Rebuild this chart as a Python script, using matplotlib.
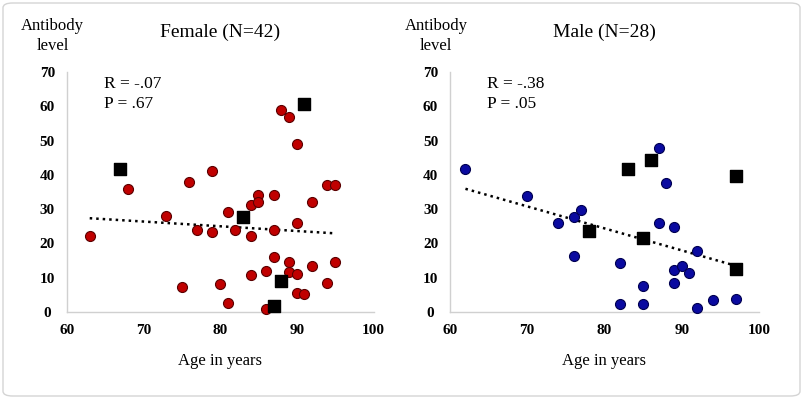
import numpy as np
import matplotlib
matplotlib.use("Agg")
import matplotlib.pyplot as plt
from matplotlib.patches import FancyBboxPatch

# ---------------- data ----------------
female_age = [63, 68, 73, 75, 76, 77, 79, 79, 80, 81, 81, 82, 84, 84, 84, 85, 85, 86, 86,
              87, 87, 87, 88, 89, 89, 89, 90, 90, 90, 90, 91, 92, 92, 94, 94, 95, 95]
female_ab = [22.2, 36.0, 28.0, 7.3, 38.0, 24.0, 41.1, 23.2, 8.3, 29.2, 2.5, 24.0, 31.2, 22.2, 10.7,
             34.0, 32.0, 12.1, 0.9, 34.0, 24.0, 16.1, 59.0, 57.0, 14.7, 11.6, 49.1, 26.0, 11.0, 5.6,
             5.2, 32.0, 13.5, 37.0, 8.6, 37.0, 14.7]
female_sq_age = [67, 83, 91, 88, 87]
female_sq_ab = [41.6, 27.8, 60.6, 9.0, 1.7]

male_age = [62, 70, 74, 76, 76, 77, 82, 82, 85, 85, 87, 87, 88, 89, 89, 89, 90, 91, 92, 92, 94, 97]
male_ab = [41.7, 33.8, 25.9, 27.8, 16.2, 29.8, 14.2, 2.2, 7.7, 2.2, 47.7, 25.9, 37.7, 24.8, 12.2,
           8.6, 13.3, 11.4, 17.9, 1.2, 3.4, 3.7]
male_sq_age = [83, 86, 97, 78, 85, 97]
male_sq_ab = [41.6, 44.4, 39.7, 23.7, 21.7, 12.6]

titles = ["Female (N=42)", "Male (N=28)"]
stats = [("R = -.07", "P = .67"), ("R = -.38", "P = .05")]
x_ticks = [60, 70, 80, 90, 100]
y_ticks = [0, 10, 20, 30, 40, 50, 60, 70]

# ---------------- figure ----------------
W, H = 804, 399
fig = plt.figure(figsize=(W / 100, H / 100), dpi=100)
plt.rcParams['font.family'] = ['Liberation Serif', 'DejaVu Serif']

def fx(px):
    return px / W

def fy(py):
    return 1 - py / H

# rounded border
border = FancyBboxPatch((fx(3), fy(396)), fx(797), (396 - 3) / H,
                        boxstyle="round,pad=0,rounding_size=0.012",
                        transform=fig.transFigure, facecolor='none',
                        edgecolor='#d4d4d4', linewidth=1.0, zorder=-1)
fig.patches.append(border)

panels = [
    dict(left=66.7, right=373.5, ages=female_age, vals=female_ab,
         sq_ages=female_sq_age, sq_vals=female_sq_ab, color='#c00000', edge='#5a0000'),
    dict(left=450.0, right=759.0, ages=male_age, vals=male_ab,
         sq_ages=male_sq_age, sq_vals=male_sq_ab, color='#0a0aa0', edge='#000050'),
]
top_px, bot_px = 72, 312

for i, p in enumerate(panels):
    ax = fig.add_axes([fx(p['left']), fy(bot_px), fx(p['right'] - p['left']), (bot_px - top_px) / H])
    ax.set_xlim(60, 100)
    ax.set_ylim(0, 70)
    ax.set_facecolor('none')
    for s in ['top', 'right']:
        ax.spines[s].set_visible(False)
    for s in ['left', 'bottom']:
        ax.spines[s].set_color('#d0d0d0')
        ax.spines[s].set_linewidth(1.0)
    ax.set_xticks(x_ticks)
    ax.set_yticks(y_ticks)
    ax.tick_params(length=0)
    ax.tick_params(axis='x', pad=8.5)
    ax.tick_params(axis='y', pad=14)
    for lab in ax.get_xticklabels() + ax.get_yticklabels():
        lab.set_fontweight('bold')
        lab.set_fontsize(11)
    for lab in ax.get_yticklabels():
        lab.set_horizontalalignment('center')

    # trend line from all points
    all_x = np.array(p['ages'] + p['sq_ages'], dtype=float)
    all_y = np.array(p['vals'] + p['sq_vals'], dtype=float)
    m, b = np.polyfit(all_x, all_y, 1)
    xs = np.array([all_x.min(), all_x.max()])
    ax.plot(xs, m * xs + b, linestyle=(0, (1, 1.6)), color='black', linewidth=1.8, zorder=2)

    ax.scatter(p['ages'], p['vals'], s=52, color=p['color'], edgecolors=p['edge'],
               linewidths=0.8, zorder=3, clip_on=False)
    ax.scatter(p['sq_ages'], p['sq_vals'], s=64, marker='s', color='black',
               zorder=4, clip_on=False)

    ax.text(0.12, 0.95, stats[i][0], transform=ax.transAxes, fontsize=12.5, va='center', ha='left')
    ax.text(0.12, 0.865, stats[i][1], transform=ax.transAxes, fontsize=12.5, va='center', ha='left')

    cx = (p['left'] + p['right']) / 2
    fig.text(fx(cx), fy(32), titles[i], fontsize=14, ha='center', va='center')
    fig.text(fx(cx), fy(361), "Age in years", fontsize=12, ha='center', va='center')
    fig.text(fx(p['left'] - 14), fy(36), "Antibody\nlevel", fontsize=12, ha='center',
             va='center', linespacing=1.3)

fig.savefig("out.png", dpi=100, facecolor='white')
